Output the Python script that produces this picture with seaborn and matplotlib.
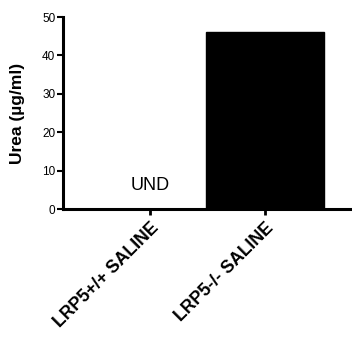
import matplotlib
matplotlib.use("Agg")
import matplotlib.pyplot as plt
import seaborn as sns
import pandas as pd

# --- data ---
groups = ["LRP5+/+ SALINE", "LRP5-/- SALINE"]
urea = [0.0, 46.0]
labels_on_bar = ["UND", ""]
y_ticks = [0, 10, 20, 30, 40, 50]

df = pd.DataFrame({"group": groups, "urea": urea})

sns.set_style("ticks")
plt.rcParams["font.family"] = ["Liberation Sans", "DejaVu Sans"]
plt.rcParams["text.color"] = "black"
plt.rcParams["axes.labelcolor"] = "black"
plt.rcParams["xtick.color"] = "black"
plt.rcParams["ytick.color"] = "black"

fig = plt.figure(figsize=(3.52, 3.41), dpi=100)
ax = fig.add_axes([0.179, 0.387, 0.821, 0.563])

sns.barplot(data=df, x="group", y="urea", color="black", width=1.02,
            edgecolor="black", saturation=1, ax=ax)

for i, txt in enumerate(labels_on_bar):
    if txt:
        ax.text(i, 4.0, txt, ha="center", va="bottom", fontsize=13)

ax.set_xlim(-0.757, 1.757)
ax.set_ylim(0, 50)
ax.set_yticks(y_ticks)
ax.set_xlabel("")
ax.set_ylabel("Urea (µg/ml)", fontsize=12.5, fontweight="bold", labelpad=12)

ax.tick_params(axis="y", labelsize=8.5, length=4.5, width=1.5, pad=1)
ax.tick_params(axis="x", length=4.5, width=2, pad=3)
ax.set_xticks(range(len(groups)))
ax.set_xticklabels(groups, rotation=45, ha="right", rotation_mode="anchor",
                   fontsize=12.8, fontweight="bold")

for side in ["top", "right"]:
    ax.spines[side].set_visible(False)
for side in ["left", "bottom"]:
    ax.spines[side].set_linewidth(2.2)
    ax.spines[side].set_color("black")

fig.savefig("out.png", dpi=100)
